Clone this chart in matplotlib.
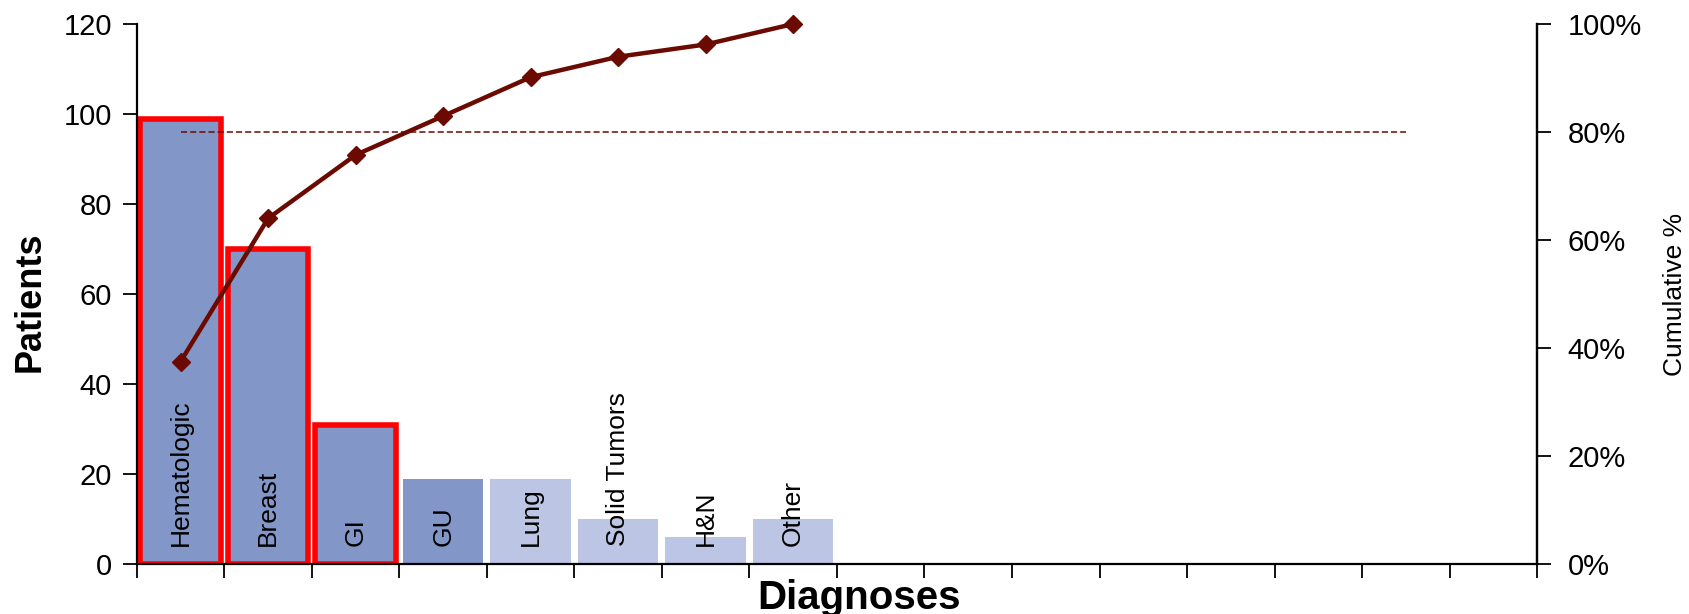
import numpy as np
import matplotlib.pyplot as plt
from matplotlib.ticker import PercentFormatter

plt.rcParams['font.family'] = ['Liberation Sans', 'DejaVu Sans']

# Diagnoses and patient counts (Pareto order)
categories = ['Hematologic', 'Breast', 'GI', 'GU', 'Lung', 'Solid Tumors', 'H&N', 'Other']
patients = [99, 70, 31, 19, 19, 10, 6, 10]
highlighted = [True, True, True, False, False, False, False, False]
n_slots = 16          # the category axis has room for 16 slots
cutoff = 0.80         # 80% reference line

dark_bar = '#8396C8'
light_bar = '#BCC5E3'
line_col = '#6B0A00'

x = np.arange(len(categories))
cum = np.cumsum(patients) / np.sum(patients)

fig = plt.figure(figsize=(16.9, 6.14), dpi=100)
ax = fig.add_axes([0.081, 0.0814, 0.8285, 0.8795])
ax2 = ax.twinx()

colours = [dark_bar if i < 4 else light_bar for i in range(len(categories))]
bars = ax.bar(x, patients, width=0.92, color=colours, zorder=2)
for b, hl in zip(bars, highlighted):
    if hl:
        b.set_edgecolor('#FF0000')
        b.set_linewidth(4)

for xi, name in zip(x, categories):
    ax.text(xi, 4, name, rotation=90, ha='center', va='bottom',
            fontsize=19, color='black', zorder=3)

ax.set_xlim(-0.5, n_slots - 0.5)
ax.set_ylim(0, 120)
ax.set_yticks(np.arange(0, 121, 20))
ax.set_xticks(np.arange(-0.5, n_slots, 1.0))
ax.set_xticklabels([])
ax.tick_params(axis='y', labelsize=21, length=10, width=1.3, direction='out', pad=8)
ax.tick_params(axis='x', length=10, width=1.3, direction='out')
ax.set_ylabel('Patients', fontsize=26, fontweight='bold', va='center')
ax.yaxis.set_label_coords(-0.0764, 0.485)
ax.set_xlabel('Diagnoses', fontsize=29, fontweight='bold')
ax.xaxis.set_label_coords(0.516, -0.028)
ax.xaxis.label.set_va('top')

ax2.set_ylim(0, 1.0)
ax2.set_yticks(np.arange(0, 1.01, 0.2))
ax2.yaxis.set_major_formatter(PercentFormatter(1.0, decimals=0))
ax2.tick_params(axis='y', labelsize=21, length=10, width=1.3, direction='out', pad=12)
ax2.set_ylabel('Cumulative %', fontsize=19, va='center')
ax2.yaxis.set_label_coords(1.0986, 0.5)

ax2.plot([0, n_slots - 2], [cutoff, cutoff], ls=(0, (4, 2)), lw=1.1, color=line_col, zorder=3)
ax2.plot(x, cum, color=line_col, lw=3.2, marker='D', markersize=9, zorder=4, clip_on=False)

for a in (ax, ax2):
    a.spines['top'].set_visible(False)
    for s in ('left', 'right', 'bottom'):
        a.spines[s].set_linewidth(1.6)
ax2.spines['left'].set_visible(False)
ax2.spines['bottom'].set_visible(False)

fig.savefig('out.png', dpi=100)
